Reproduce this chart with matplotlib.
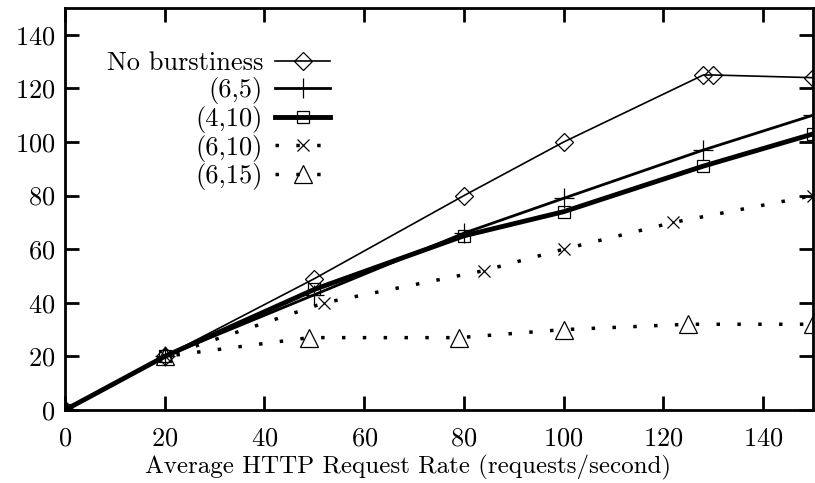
import matplotlib
matplotlib.use("Agg")
import matplotlib.pyplot as plt

plt.rcParams['font.family'] = ['cmr10', 'DejaVu Serif']
plt.rcParams['axes.formatter.use_mathtext'] = True
plt.rcParams['mathtext.fontset'] = 'cm'

# request rate (requests/second) and measured throughput for each burstiness setting
x_none = [0, 20, 50, 80, 100, 128, 130, 150]
y_none = [0, 20, 49, 80, 100, 125, 125, 124]

x_65 = [0, 20, 50, 80, 100, 128, 150]
y_65 = [0, 20, 43, 66, 79, 97, 110]

x_410 = [0, 20, 50, 80, 100, 128, 150]
y_410 = [0, 20, 45, 65, 74, 91, 103]

x_610 = [0, 20, 52, 84, 100, 122, 150]
y_610 = [0, 20, 40, 52, 60, 70, 80]

x_615 = [0, 20, 49, 79, 100, 125, 150]
y_615 = [0, 20, 27, 27, 30, 32, 32]

fig = plt.figure(figsize=(8.15, 4.83), dpi=100)
ax = fig.add_axes([65 / 815, 1 - 410 / 483, (813 - 65) / 815, (410 - 8) / 483])

mk = dict(color="black", markerfacecolor="none", markeredgecolor="black", markeredgewidth=0.9)
ax.plot(x_none, y_none, marker="D", markersize=9, linewidth=1.2, label="No burstiness", **mk)
ax.plot(x_65, y_65, marker="+", markersize=14, linewidth=2.0, label="(6,5)", **mk)
ax.plot(x_410, y_410, marker="s", markersize=9, linewidth=3.5, label="(4,10)", **mk)
ax.plot(x_610, y_610, marker="x", markersize=9, linewidth=2.5, linestyle=(0, (1, 5)), label="(6,10)", **mk)
ax.plot(x_615, y_615, marker="^", markersize=13, linewidth=2.5, linestyle=(0, (1, 5)), label="(6,15)", **mk)

ax.set_xlim(0, 150)
ax.set_ylim(0, 150)
ax.set_xticks(range(0, 141, 20))
ax.set_yticks(range(0, 141, 20))
ax.tick_params(direction="in", length=10, width=2, top=True, right=True, labelsize=19)
ax.tick_params(axis="x", pad=12)
ax.tick_params(axis="y", pad=7)
for s in ax.spines.values():
    s.set_linewidth(2)
ax.set_xlabel("Average HTTP Request Rate (requests/second)", fontsize=18)
ax.xaxis.set_label_coords(0.4585, -0.112)

ax.legend(loc="upper left", bbox_to_anchor=(0.038, 0.925), frameon=False, markerfirst=False,
          fontsize=19, handlelength=2.1, handletextpad=0.45, labelspacing=0.07, borderpad=0)

fig.savefig("out.png", dpi=100)
